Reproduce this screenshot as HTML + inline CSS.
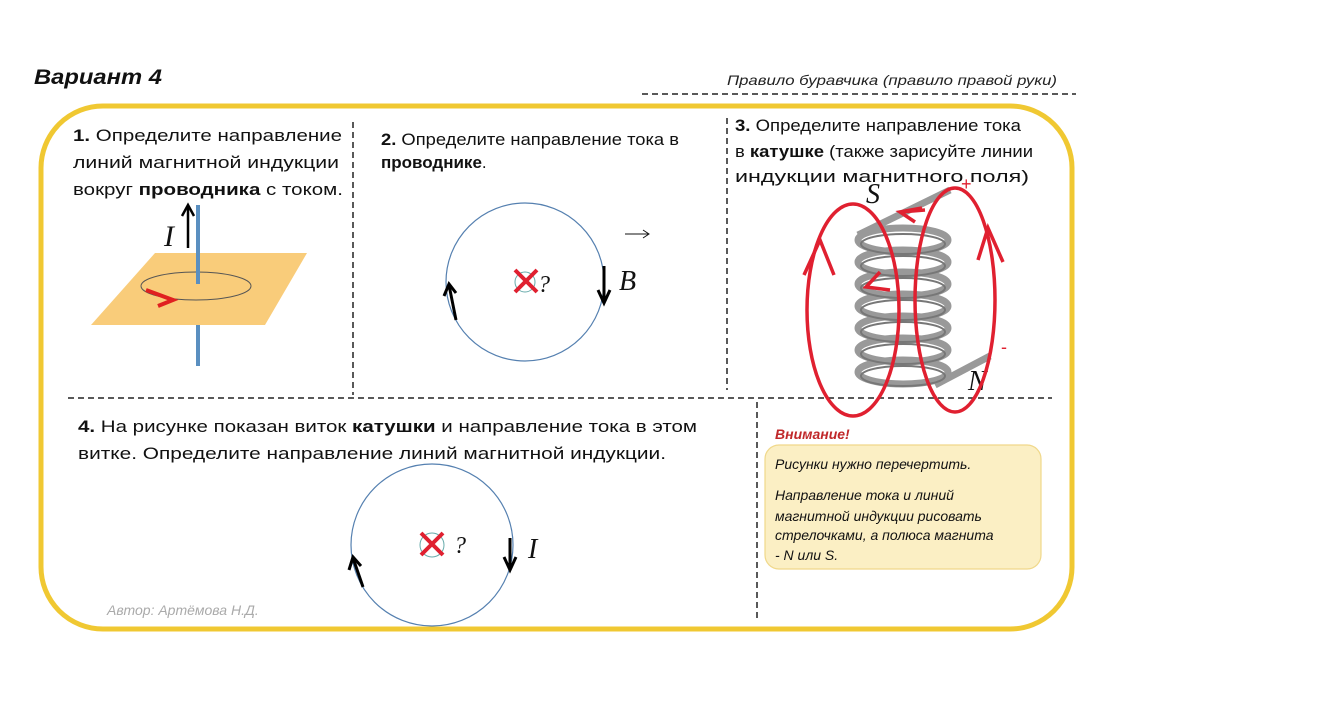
<!DOCTYPE html>
<html><head><meta charset="utf-8"><style>
html,body{margin:0;padding:0;background:#fff;}
svg{display:block;}
text{font-family:"Liberation Sans","DejaVu Sans",sans-serif;}
.t{font-size:17px;fill:#111;}
.i{font-style:italic;}
.s{font-family:"Liberation Serif",serif;font-style:italic;}
</style></head><body>
<svg width="1339" height="720" viewBox="0 0 1339 720" xmlns="http://www.w3.org/2000/svg">
<rect x="0" y="0" width="1339" height="720" fill="#fff"/>
<text x="34" y="84" font-size="21" font-weight="bold" font-style="italic" fill="#111" textLength="128" lengthAdjust="spacingAndGlyphs">Вариант 4</text>
<text x="727" y="85" font-size="14" font-style="italic" fill="#222" textLength="330" lengthAdjust="spacingAndGlyphs">Правило буравчика (правило правой руки)</text>
<line x1="642" y1="94" x2="1076" y2="94" stroke="#222" stroke-width="1.5" stroke-dasharray="6,4"/>
<rect x="41" y="106" width="1031" height="523" rx="62" ry="62" fill="none" stroke="#f0c832" stroke-width="5"/>
<g stroke="#222" stroke-width="1.5" stroke-dasharray="6,4">
<line x1="353" y1="122" x2="353" y2="395"/>
<line x1="727" y1="118" x2="727" y2="390"/>
<line x1="68" y1="398" x2="1052" y2="398"/>
<line x1="757" y1="402" x2="757" y2="622"/>
</g>
<!-- 1 -->
<text class="t" x="73" y="141" textLength="269" lengthAdjust="spacingAndGlyphs"><tspan font-weight="bold">1.</tspan> Определите направление</text>
<text class="t" x="73" y="168" textLength="266" lengthAdjust="spacingAndGlyphs">линий магнитной индукции</text>
<text class="t" x="73" y="195" textLength="270" lengthAdjust="spacingAndGlyphs">вокруг <tspan font-weight="bold">проводника</tspan> с током.</text>
<line x1="198" y1="205" x2="198" y2="285" stroke="#5a8fc0" stroke-width="4"/>
<polygon points="155,253 307,253 265,325 91,325" fill="#f9cc7a"/>
<ellipse cx="196" cy="286" rx="55" ry="14" fill="none" stroke="#555" stroke-width="1"/>
<line x1="198" y1="253" x2="198" y2="284" stroke="#5a8fc0" stroke-width="4"/>
<line x1="198" y1="325" x2="198" y2="366" stroke="#5a8fc0" stroke-width="4"/>
<path d="M146,290 L173,300 L158,306" fill="none" stroke="#e02020" stroke-width="4"/>
<line x1="188" y1="248" x2="188" y2="206" stroke="#000" stroke-width="2.5"/>
<path d="M182,216 L188,205 L194,216" fill="none" stroke="#000" stroke-width="2.5"/>
<text x="164" y="246" class="s" font-size="30" fill="#111">I</text>
<!-- 2 -->
<text class="t" x="381" y="145" textLength="298" lengthAdjust="spacingAndGlyphs"><tspan font-weight="bold">2.</tspan> Определите направление тока в</text>
<text class="t" x="381" y="168" font-weight="bold">проводнике<tspan font-weight="normal">.</tspan></text>
<circle cx="525" cy="282" r="79" fill="none" stroke="#5580b0" stroke-width="1.2"/>
<circle cx="525" cy="282" r="10" fill="none" stroke="#6aa" stroke-width="1"/>
<path d="M515,270 L537,292 M537,270 L515,292" stroke="#e02030" stroke-width="4"/>
<text x="538" y="292" class="s" font-size="24" fill="#111">?</text>
<line x1="604" y1="266" x2="604" y2="302" stroke="#000" stroke-width="3"/>
<path d="M598,290 L604,303 L610,290" fill="none" stroke="#000" stroke-width="3"/>
<line x1="456" y1="320" x2="449" y2="285" stroke="#000" stroke-width="3"/>
<path d="M444,296 L449,284 L456,293" fill="none" stroke="#000" stroke-width="3"/>
<text x="619" y="290" class="s" font-size="28" fill="#111">B</text>
<path d="M625,234 L648,234 M643,230 L649,234 L643,238" fill="none" stroke="#111" stroke-width="1"/>
<!-- 3 -->
<text class="t" x="735" y="131" textLength="286" lengthAdjust="spacingAndGlyphs"><tspan font-weight="bold">3.</tspan> Определите направление тока</text>
<text class="t" x="735" y="157" textLength="298" lengthAdjust="spacingAndGlyphs">в <tspan font-weight="bold">катушке</tspan> (также зарисуйте линии</text>
<text class="t" x="735" y="182" textLength="294" lengthAdjust="spacingAndGlyphs">индукции магнитного поля)</text>
<g fill="none" stroke="#999" stroke-width="7">
<line x1="858" y1="235" x2="950" y2="190"/>
<ellipse cx="903" cy="240" rx="45" ry="12"/>
<ellipse cx="903" cy="262" rx="45" ry="12"/>
<ellipse cx="903" cy="284" rx="45" ry="12"/>
<ellipse cx="903" cy="306" rx="45" ry="12"/>
<ellipse cx="903" cy="328" rx="45" ry="12"/>
<ellipse cx="903" cy="350" rx="45" ry="12"/>
<ellipse cx="903" cy="372" rx="45" ry="12"/>
<line x1="935" y1="385" x2="990" y2="356"/>
</g>
<g fill="none" stroke="#777" stroke-width="2">
<ellipse cx="903" cy="244" rx="42" ry="10"/>
<ellipse cx="903" cy="266" rx="42" ry="10"/>
<ellipse cx="903" cy="288" rx="42" ry="10"/>
<ellipse cx="903" cy="310" rx="42" ry="10"/>
<ellipse cx="903" cy="332" rx="42" ry="10"/>
<ellipse cx="903" cy="354" rx="42" ry="10"/>
<ellipse cx="903" cy="376" rx="42" ry="10"/>
</g>
<text x="866" y="203" class="s" font-size="28" fill="#111">S</text>
<text x="968" y="390" class="s" font-size="28" fill="#111">N</text>
<g fill="none" stroke="#e02030" stroke-width="3.5">
<ellipse cx="853" cy="310" rx="46" ry="106"/>
<ellipse cx="955" cy="300" rx="40" ry="112"/>
<path d="M804,275 L820,240 L834,275"/>
<path d="M978,260 L988,228 L1003,262"/>
<path d="M922,208 L900,212 L915,222 M900,212 L925,210"/>
<path d="M880,272 L866,287 L890,290"/>
</g>
<text x="961" y="190" font-size="18" fill="#e02030">+</text>
<text x="1001" y="353" font-size="18" fill="#e02030">-</text>
<!-- 4 -->
<text class="t" x="78" y="432" textLength="619" lengthAdjust="spacingAndGlyphs"><tspan font-weight="bold">4.</tspan> На рисунке показан виток <tspan font-weight="bold">катушки</tspan> и направление тока в этом</text>
<text class="t" x="78" y="459" textLength="588" lengthAdjust="spacingAndGlyphs">витке. Определите направление линий магнитной индукции.</text>
<circle cx="432" cy="545" r="81" fill="none" stroke="#5580b0" stroke-width="1.2"/>
<circle cx="432" cy="545" r="12" fill="none" stroke="#6aa" stroke-width="1"/>
<path d="M421,533 L443,555 M443,533 L421,555" stroke="#e02030" stroke-width="4"/>
<text x="454" y="553" class="s" font-size="24" fill="#111">?</text>
<line x1="510" y1="538" x2="510" y2="568" stroke="#000" stroke-width="3"/>
<path d="M504,557 L510,570 L516,557" fill="none" stroke="#000" stroke-width="3"/>
<line x1="363" y1="587" x2="353" y2="558" stroke="#000" stroke-width="3"/>
<path d="M349,570 L353,557 L361,566" fill="none" stroke="#000" stroke-width="3"/>
<text x="528" y="558" class="s" font-size="28" fill="#111">I</text>
<text x="107" y="615" font-size="14" font-style="italic" fill="#aaa">Автор: Артёмова Н.Д.</text>
<!-- note -->
<text x="775" y="439" font-size="14" font-weight="bold" font-style="italic" fill="#c0282a">Внимание!</text>
<rect x="765" y="445" width="276" height="124" rx="14" fill="#fbefc4" stroke="#f0d88a" stroke-width="1.2"/>
<g font-size="14" font-style="italic" fill="#111">
<text x="775" y="469">Рисунки нужно перечертить.</text>
<text x="775" y="500">Направление тока и линий</text>
<text x="775" y="521">магнитной индукции рисовать</text>
<text x="775" y="540">стрелочками, а полюса магнита</text>
<text x="775" y="560">-  N или S.</text>
</g>
</svg>
</body></html>
